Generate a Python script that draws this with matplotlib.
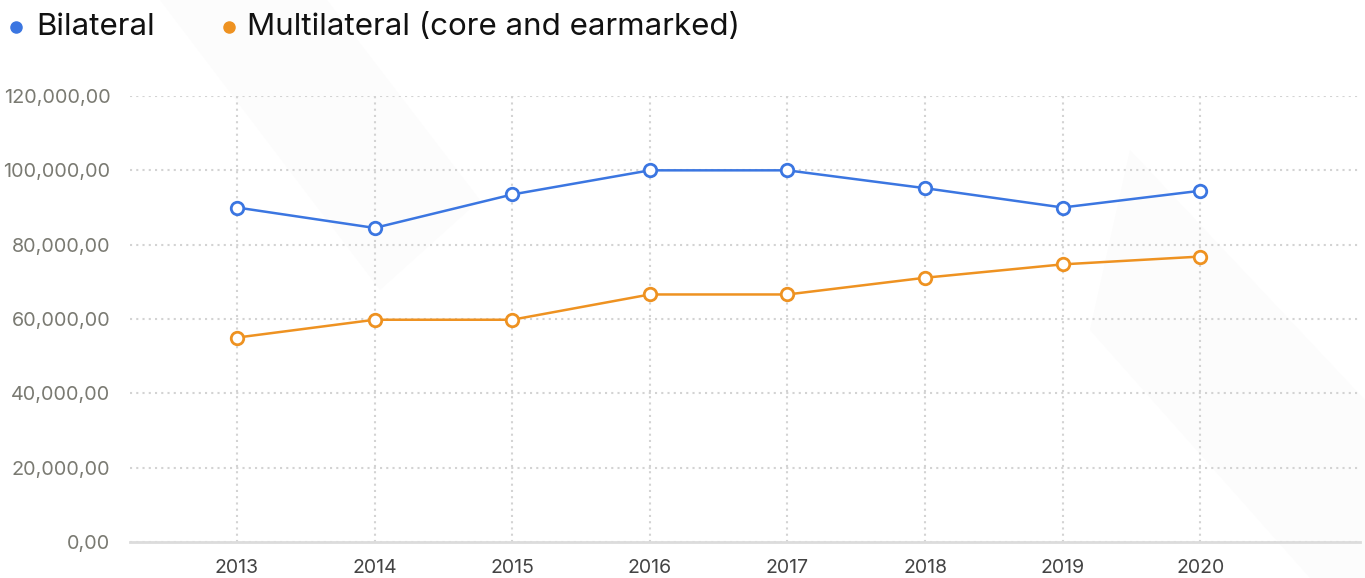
import matplotlib.pyplot as plt
from matplotlib.lines import Line2D
from matplotlib.patches import Polygon
from matplotlib.ticker import FuncFormatter

# Data
years = [2013, 2014, 2015, 2016, 2017, 2018, 2019, 2020]
bilateral = [90000, 84500, 93500, 100000, 100000, 95200, 90000, 94500]
multilateral = [55000, 59800, 59800, 66600, 66600, 71100, 74700, 76800]
y_ticks = [0, 20000, 40000, 60000, 80000, 100000, 120000]
series_names = ['Bilateral', 'Multilateral (core and earmarked)']

blue = '#3b76e1'
orange = '#ee9221'

plt.rcParams['font.family'] = ['Inter', 'DejaVu Sans']

W, H = 1365, 578
fig = plt.figure(figsize=(W / 100, H / 100), dpi=100)

# very faint diagonal bands in the background (pixel coords -> figure fraction)
def px(pts):
    return [(x / W, 1 - y / H) for x, y in pts]

for pts in [[(160, 0), (327, 0), (480, 200), (380, 290)],
            [(1130, 150), (1365, 400), (1365, 578), (1310, 578), (1090, 330)]]:
    fig.add_artist(Polygon(px(pts), closed=True, transform=fig.transFigure,
                           facecolor='#fcfcfc', edgecolor='none', zorder=0))

ax = fig.add_axes([130 / W, 1 - 542 / H, 1230 / W, 446 / H])
ax.patch.set_visible(False)

ax.plot(years, bilateral, color=blue, lw=1.8, marker='o', ms=9,
        mfc='white', mec=blue, mew=2, zorder=3, clip_on=False)
ax.plot(years, multilateral, color=orange, lw=1.8, marker='o', ms=9,
        mfc='white', mec=orange, mew=2, zorder=3, clip_on=False)

ax.set_ylim(0, 120000)
ax.set_xlim(2013 - 107 / 137.6, 2013 + 1123 / 137.6)
ax.set_yticks(y_ticks)
ax.set_xticks(years)
ax.yaxis.set_major_formatter(FuncFormatter(lambda v, p: f"{v:,.0f},00"))

ax.grid(True, color='#d3d3d3', linestyle=(0, (1, 2)), linewidth=1.5)
ax.set_axisbelow(True)
for s in ['top', 'right', 'left']:
    ax.spines[s].set_visible(False)
ax.spines['bottom'].set_color('#dcdcdc')
ax.spines['bottom'].set_linewidth(2)

ax.tick_params(axis='y', length=0, pad=14, labelsize=14.3, labelcolor='#7a7a72')
ax.tick_params(axis='x', length=0, pad=12, labelsize=14, labelcolor='#444444')

# legend drawn by hand so dot and text sit where the reference has them
legend_x = [(16, 36), (229, 247)]
for (dot_x, txt_x), name, col in zip(legend_x, series_names, [blue, orange]):
    fig.add_artist(Line2D([dot_x / W], [1 - 27 / H], transform=fig.transFigure,
                          marker='o', ms=8, color=col, ls='none'))
    fig.text(txt_x / W, 1 - 27 / H, name, fontsize=22.5, color='#111111',
             va='center', ha='left')

fig.savefig('out.png', dpi=100, facecolor='white')
